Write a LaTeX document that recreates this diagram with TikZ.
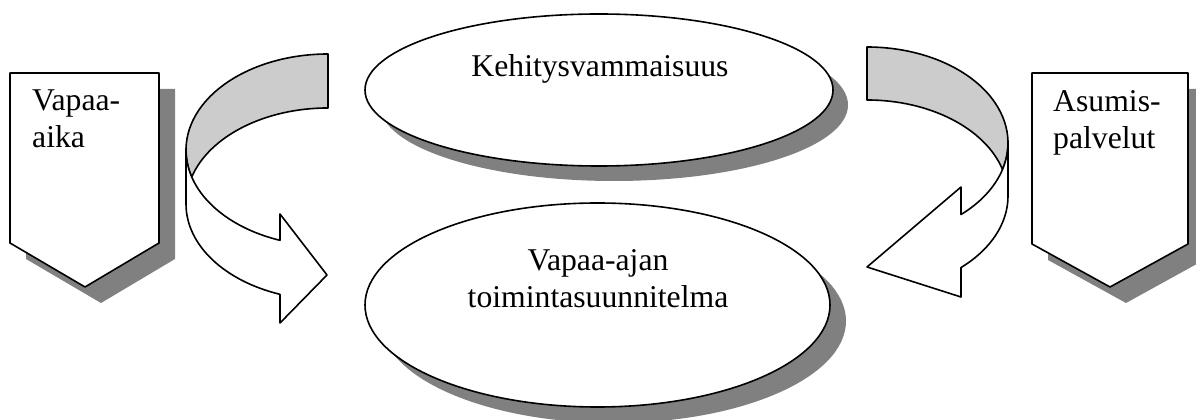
\documentclass[tikz,border=0pt]{standalone}
\usepackage{fontspec}
\setmainfont{Liberation Serif}
\usetikzlibrary{shapes.geometric}
\definecolor{shadowgray}{RGB}{128,128,128}
\definecolor{bandgray}{RGB}{204,204,204}
\begin{document}
\begin{tikzpicture}[x=1pt,y=1pt,
  outline/.style={draw=black, line width=1.6pt, line join=round},
  shadowfill/.style={fill=shadowgray, draw=none},
  lbl/.style={font=\fontsize{31.7}{37}\selectfont, inner sep=0pt},
  oval/.style={ellipse, inner sep=0pt},
]
\useasboundingbox (0,0) rectangle (1196,420);

% left pentagon
\fill[shadowfill] (26,331) -- (175,331) -- (175,161) -- (101,117) -- (26,161) -- cycle;
\draw[outline, fill=white] (10,347) -- (159,347) -- (159,177) -- (85,133) -- (10,177) -- cycle;
% right pentagon
\fill[shadowfill] (1048,331) -- (1204,331) -- (1204,160) -- (1126,117) -- (1048,160) -- cycle;
\draw[outline, fill=white] (1032,347) -- (1188,347) -- (1188,176) -- (1110,133) -- (1032,176) -- cycle;

% top ellipse
\node[oval, shadowfill, minimum width=468pt, minimum height=152pt] (topshadow) at (614,315) {};
\node[oval, outline, fill=white, minimum width=468pt, minimum height=152pt] (topoval) at (599,330) {};
% bottom ellipse
\node[oval, shadowfill, minimum width=465pt, minimum height=204pt] (botshadow) at (613.5,99) {};
\node[oval, outline, fill=white, minimum width=465pt, minimum height=204pt] (botoval) at (597.5,115) {};

% left curved arrow
\draw[outline, fill=bandgray] (328,366)
  arc[start angle=90, end angle=196.33, x radius=142, y radius=96]
  arc[start angle=163.67, end angle=90, x radius=142, y radius=96] -- cycle;
\draw[outline, fill=white] (186,270)
  arc[start angle=180, end angle=250.24, x radius=142, y radius=96]
  -- (280,206) -- (327,145) -- (280,97) -- (280,125.67)
  arc[start angle=250.24, end angle=180, x radius=142, y radius=96] -- cycle;

% right curved arrow
\draw[outline, fill=bandgray] (867,373)
  arc[start angle=90, end angle=-16.02, x radius=141, y radius=96]
  arc[start angle=16.02, end angle=90, x radius=141, y radius=96] -- cycle;
\draw[outline, fill=white] (1008,277)
  arc[start angle=0, end angle=-48.19, x radius=141, y radius=96]
  -- (961,233) -- (867,153) -- (961,123) -- (961,152.44)
  arc[start angle=-48.19, end angle=0, x radius=141, y radius=96] -- cycle;

% texts
\node[lbl, align=left, anchor=base west] (vapaa) at (32,272) {Vapaa-\\aika};
\node[lbl, align=left, anchor=base west] (asumis) at (1053,271) {Asumis-\\palvelut};
\node[lbl, anchor=base] (kehitys) at (600,343) {Kehitysvammaisuus};
\node[lbl, align=center, anchor=base] (suunn) at (598,112) {Vapaa-ajan\\toimintasuunnitelma};
\end{tikzpicture}
\end{document}
